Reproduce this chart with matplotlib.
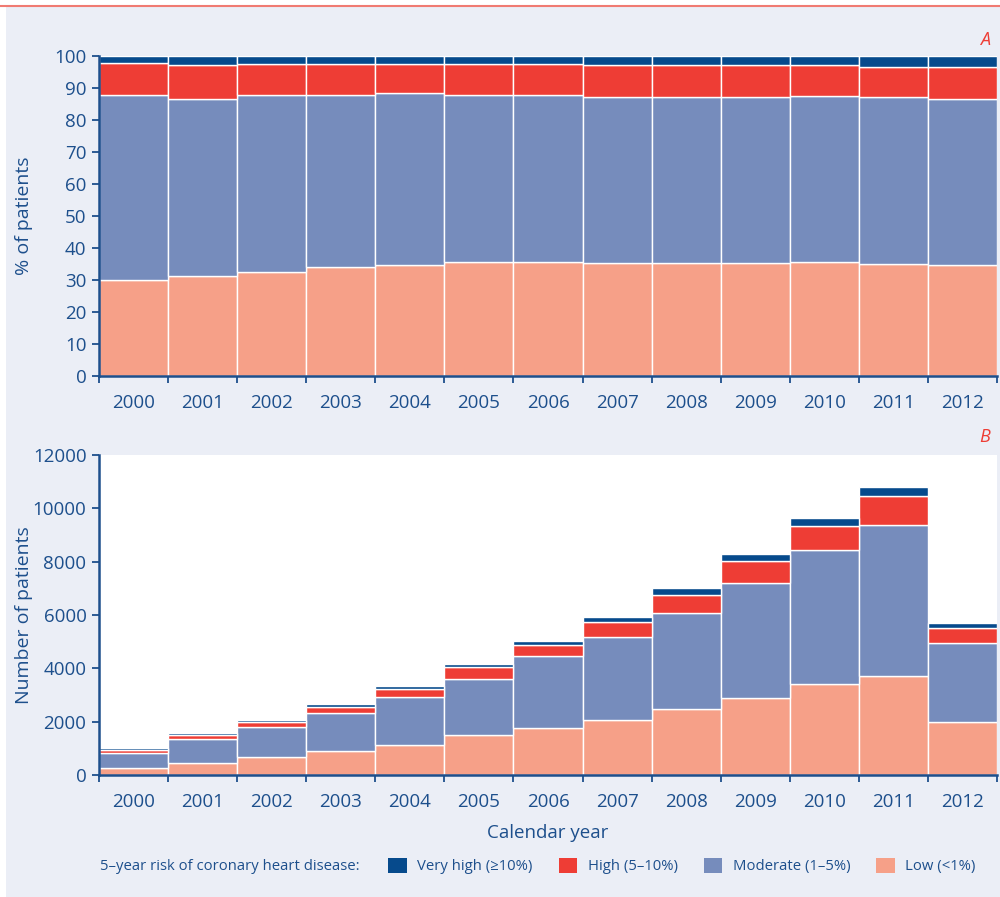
import numpy as np
import matplotlib
matplotlib.use("Agg")
import matplotlib.pyplot as plt
from matplotlib.patches import Patch, Rectangle
from matplotlib.lines import Line2D

years = [str(y) for y in range(2000, 2013)]

# panel A: cumulative boundaries (% of patients)
pct_low = [30.0, 31.2, 32.5, 34.0, 34.7, 35.6, 35.6, 35.3, 35.3, 35.3, 35.6, 35.0, 34.7]
pct_low_mod = [87.9, 86.7, 87.9, 87.9, 88.3, 87.9, 87.9, 87.1, 87.1, 87.1, 87.5, 87.1, 86.7]
pct_low_mod_high = [97.9, 97.1, 97.5, 97.5, 97.5, 97.5, 97.5, 97.1, 97.1, 97.1, 97.1, 96.7, 96.7]

# panel B: cumulative boundaries (number of patients)
n_low = [262, 450, 662, 900, 1137, 1487, 1775, 2062, 2462, 2887, 3425, 3712, 1975]
n_low_mod = [837, 1337, 1812, 2312, 2937, 3612, 4450, 5162, 6087, 7200, 8425, 9387, 4937]
n_low_mod_high = [937, 1512, 2000, 2550, 3225, 4050, 4875, 5750, 6762, 8025, 9337, 10450, 5500]
n_total = [1000, 1562, 2050, 2650, 3325, 4150, 5025, 5937, 7012, 8275, 9625, 10787, 5700]

categories = ["Very high (\u226510%)", "High (5\u201310%)", "Moderate (1\u20135%)", "Low (<1%)"]
colors = ["#064a8c", "#ee3d35", "#768cbc", "#f6a088"]

TXT = "#1d4f8c"
BG = "#ebeef6"
plt.rcParams["font.family"] = ["Open Sans", "DejaVu Sans"]


def stack_panel(ax, low, low_mod, low_mod_high, top, ymax, ystep):
    x = np.arange(len(years))
    low = np.asarray(low, float)
    mod = np.asarray(low_mod) - low
    high = np.asarray(low_mod_high) - np.asarray(low_mod)
    vhigh = np.asarray(top, float) - np.asarray(low_mod_high)
    bottom = np.zeros(len(years))
    for vals, c in zip([low, mod, high, vhigh], colors[::-1]):
        ax.bar(x, vals, bottom=bottom, width=1.0, color=c,
               edgecolor="white", linewidth=1.0)
        bottom += vals
    ax.set_xlim(-0.5, len(years) - 0.5)
    ax.set_ylim(0, ymax)
    ax.set_yticks(np.arange(0, ymax + 1, ystep))
    ax.set_xticks(np.arange(-0.5, len(years)), labels=[])
    ax.set_xticks(x, labels=years, minor=True)
    ax.tick_params(axis="x", which="minor", length=0, pad=13, labelsize=13.5, labelcolor=TXT)
    ax.tick_params(axis="x", which="major", length=5, width=1.3, color=TXT)
    ax.tick_params(axis="y", length=5, width=1.3, color=TXT, labelsize=13.5, labelcolor=TXT, pad=4)
    for s in ["top", "right"]:
        ax.spines[s].set_visible(False)
    for s in ["left", "bottom"]:
        ax.spines[s].set_color(TXT)
        ax.spines[s].set_linewidth(1.8)
    ax.yaxis.set_label_coords(-0.073, 0.5)


fig = plt.figure(figsize=(10, 8.97), dpi=100, facecolor="white")
fig.patches.append(Rectangle((0.006, 0), 0.994, 1 - 7 / 897, transform=fig.transFigure,
                             facecolor=BG, edgecolor="none", zorder=-10))
fig.lines.append(Line2D([0, 1], [1 - 6.5 / 897] * 2, transform=fig.transFigure,
                        color="#f07a72", linewidth=1.5))

axA = fig.add_axes([0.099, 0.5808, 0.898, 0.3567])
axA.set_facecolor(BG)
stack_panel(axA, pct_low, pct_low_mod, pct_low_mod_high, [100] * len(years), 100, 10)
axA.set_ylabel("% of patients", color=TXT, fontsize=14)
fig.text(0.99, 1 - 40 / 897, "A", color="#ee3d35", fontsize=13, style="italic",
         ha="right", va="center")

axB = fig.add_axes([0.099, 0.136, 0.898, 0.3567])
axB.set_facecolor("white")
stack_panel(axB, n_low, n_low_mod, n_low_mod_high, n_total, 12000, 2000)
axB.set_ylabel("Number of patients", color=TXT, fontsize=14)
axB.set_xlabel("Calendar year", color=TXT, fontsize=13.5, labelpad=9)
fig.text(0.99, 1 - 437 / 897, "B", color="#ee3d35", fontsize=13, style="italic",
         ha="right", va="center")

fig.text(0.100, 1 - 866 / 897, "5\u2013year risk of coronary heart disease:", color=TXT,
         fontsize=10.7, ha="left", va="center")
handles = [Patch(facecolor=c, edgecolor="none") for c in colors]
leg = fig.legend(handles, categories, loc="center left", bbox_to_anchor=(0.375, 1 - 866 / 897),
                 ncol=4, frameon=False, fontsize=10.7, handlelength=1.25, handleheight=1.25,
                 handletextpad=0.7, columnspacing=1.75, labelcolor=TXT)

fig.savefig("out.png", dpi=100, facecolor=fig.get_facecolor())
